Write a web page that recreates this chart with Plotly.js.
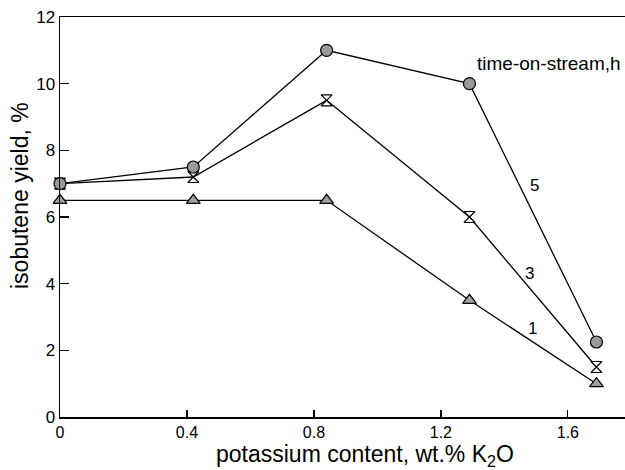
<!DOCTYPE html>
<html><head><meta charset="utf-8">
<script src="https://cdn.plot.ly/plotly-3.0.1.min.js"></script>
<style>html,body{margin:0;padding:0;background:#fff}</style>
</head><body><div id="chart" style="width:625px;height:470px"></div>
<script>
const xK2O = [0, 0.42, 0.84, 1.29, 1.69];
const yield5h = [7.0, 7.5, 11.0, 10.0, 2.25];
const yield3h = [7.0, 7.2, 9.5, 6.0, 1.5];
const yield1h = [6.5, 6.5, 6.5, 3.5, 1.0];
const seriesLabels = ['5', '3', '1'];
const legendTitle = 'time-on-stream,h';
const xTitle = 'potassium content, wt.% K<sub>2</sub>O';
const yTitle = 'isobutene yield, %';

const F = 'Liberation Sans, Arial, Helvetica, sans-serif';
function tr(y, sym, fill, size) {
  return {x: xK2O, y: y, mode: 'lines+markers', type: 'scatter',
    line: {color: '#000', width: 1.3},
    marker: {symbol: sym, size: size, color: fill, line: {color: '#000', width: 1.2}},
    showlegend: false, cliponaxis: false};
}
const data = [
  tr(yield1h, 'triangle-up', '#a0a0a0', 12),
  tr(yield3h, 'hourglass', '#ffffff', 11),
  tr(yield5h, 'circle', '#9a9a9a', 12)
];
const layout = {
  width: 625, height: 470,
  margin: {l: 60, r: 0, t: 17, b: 53},
  paper_bgcolor: '#fff', plot_bgcolor: '#fff',
  font: {family: F, color: '#000'},
  xaxis: {range: [0, 1.78], tickvals: [0, 0.4, 0.8, 1.2, 1.6], ticktext: ['0', '0.4', '0.8', '1.2', '1.6'],
    ticks: 'inside', ticklen: 7, tickwidth: 1.2, tickcolor: '#000',
    showline: true, linecolor: '#000', linewidth: 1.5, mirror: true,
    showgrid: false, zeroline: false, tickfont: {size: 16, family: F}},
  yaxis: {range: [0, 12], tickvals: [0, 2, 4, 6, 8, 10, 12],
    ticks: 'inside', ticklen: 9, tickwidth: 1.2, tickcolor: '#000',
    showline: true, linecolor: '#000', linewidth: 1.5,
    showgrid: false, zeroline: false, tickfont: {size: 17, family: F}},
  annotations: [
    {xref: 'x', yref: 'paper', x: 0.96, y: 0, yanchor: 'top', yshift: -22, xanchor: 'center',
     text: xTitle, showarrow: false, font: {size: 23, family: F}},
    {xref: 'paper', yref: 'y', x: 0, y: 6.63, xanchor: 'center', yanchor: 'middle', xshift: -40,
     textangle: -90, text: yTitle, showarrow: false, font: {size: 23, family: F}},
    {x: 1.54, y: 10.62, text: legendTitle, showarrow: false, font: {size: 19, family: F}},
    {x: 1.496, y: 6.96, text: seriesLabels[0], showarrow: false, font: {size: 17, family: F}},
    {x: 1.48, y: 4.32, text: seriesLabels[1], showarrow: false, font: {size: 17, family: F}},
    {x: 1.487, y: 2.67, text: seriesLabels[2], showarrow: false, font: {size: 17, family: F}}
  ]
};
Plotly.newPlot('chart', data, layout, {displayModeBar: false, staticPlot: true});
</script></body></html>
